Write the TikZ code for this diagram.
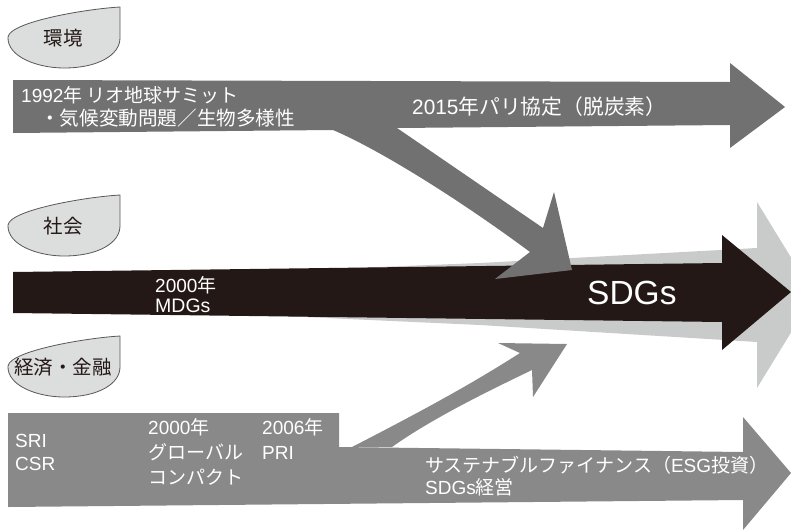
\documentclass[tikz,border=0pt]{standalone}
\usepackage{fontspec}
\setmainfont{Noto Sans CJK JP}
\newfontfamily\latf{Liberation Sans}
\newcommand\la[1]{{\latf #1}}
\definecolor{topgray}{HTML}{727171}
\definecolor{botgray}{HTML}{898989}
\definecolor{lightgray2}{HTML}{C9CACA}
\definecolor{inkblack}{HTML}{231815}
\definecolor{bubblefill}{HTML}{DCDDDD}
\definecolor{bubbleline}{HTML}{595757}
\tikzset{
  wlabel/.style={anchor=base west, inner sep=0pt, text=white, font=\fontsize{19}{23}\selectfont},
  bubbletext/.style={inner sep=0pt, text=inkblack, font=\fontsize{19.5}{23}\selectfont},
  bubbleshape/.style={fill=bubblefill, draw=bubbleline, line width=0.8pt},
}
\newcommand\mybubble[3]{%
  \begin{scope}[shift={(0,#1)}]
    \path[bubbleshape] (120,0) .. controls (85,2) and (10,15) .. (8,30)
      .. controls (7,50) and (38,61) .. (64,61)
      .. controls (98,61) and (120,48) .. (120,31) -- cycle;
    \node[bubbletext] (#2) at (63,31) {#3};
  \end{scope}}
\begin{document}
\begin{tikzpicture}[x=1pt,y=-1pt]
\useasboundingbox (0,0) rectangle (791,530);
\clip (0,0) rectangle (791,530);

% bubbles
\mybubble{7}{env}{環境}
\mybubble{195}{soc}{社会}
\mybubble{336}{eco}{経済・金融}

% light gray background arrow
\fill[lightgray2] (150,276) -- (480,263) -- (757,248) -- (757,202) -- (814,295)
  -- (757,388) -- (757,342) -- (480,325) -- (150,310) -- cycle;
% black SDGs arrow
\fill[inkblack] (13,272) -- (722,263) -- (722,235) -- (791,292) -- (722,350)
  -- (722,322) -- (13,313) -- cycle;

% top environment arrow with branch
\fill[topgray] (13,80) -- (730,82) -- (730,63) -- (785,107) -- (730,148) -- (730,125)
  -- (397,128) -- (543,228) -- (554,192) -- (572,270) -- (495,279) -- (530,252)
  .. controls (460,200) and (380,150) .. (333,130) -- (13,133) -- cycle;

% bottom economy arrow
\fill[botgray] (8,413) -- (339,413) -- (339,447) -- (743,452) -- (743,417) -- (791,473)
  -- (743,530) -- (743,500) -- (8,507) -- cycle;
% bottom branch
\fill[botgray] (352,447) .. controls (420,412) and (470,385) .. (520,353)
  -- (498,343) -- (567,344) -- (533,397) -- (532,370)
  .. controls (480,395) and (430,420) .. (392,447) -- cycle;

% texts
\node[wlabel] (t1) at (21,102) {\la{1992}年 リオ地球サミット};
\node[wlabel, font=\fontsize{19.6}{23}\selectfont] (t2) at (21,125) {\hspace*{19pt}・気候変動問題／生物多様性};
\node[wlabel, font=\fontsize{20.8}{24}\selectfont] (t3) at (412,114) {\la{2015}年パリ協定（脱炭素）};

\node[wlabel] (m1) at (155,292) {\la{2000}年};
\node[wlabel, font=\fontsize{19.5}{23}\selectfont] (m2) at (155,312) {\la{MDGs}};
\node[wlabel, font=\fontsize{33.5}{36}\selectfont] (sdgs) at (587,304) {\la{SDGs}};

\node[wlabel] (b1) at (15,447) {\la{SRI}};
\node[wlabel] (b2) at (15,470) {\la{CSR}};
\node[wlabel] (b3) at (148,434) {\la{2000}年};
\node[wlabel] (b4) at (148,459) {グローバル};
\node[wlabel] (b5) at (148,484) {コンパクト};
\node[wlabel] (b6) at (262,434) {\la{2006}年};
\node[wlabel] (b7) at (262,459) {\la{PRI}};
\node[wlabel] (b8) at (425,472) {サステナブルファイナンス（\la{ESG}投資）};
\node[wlabel] (b9) at (425,494) {\la{SDGs}経営};
\end{tikzpicture}
\end{document}
